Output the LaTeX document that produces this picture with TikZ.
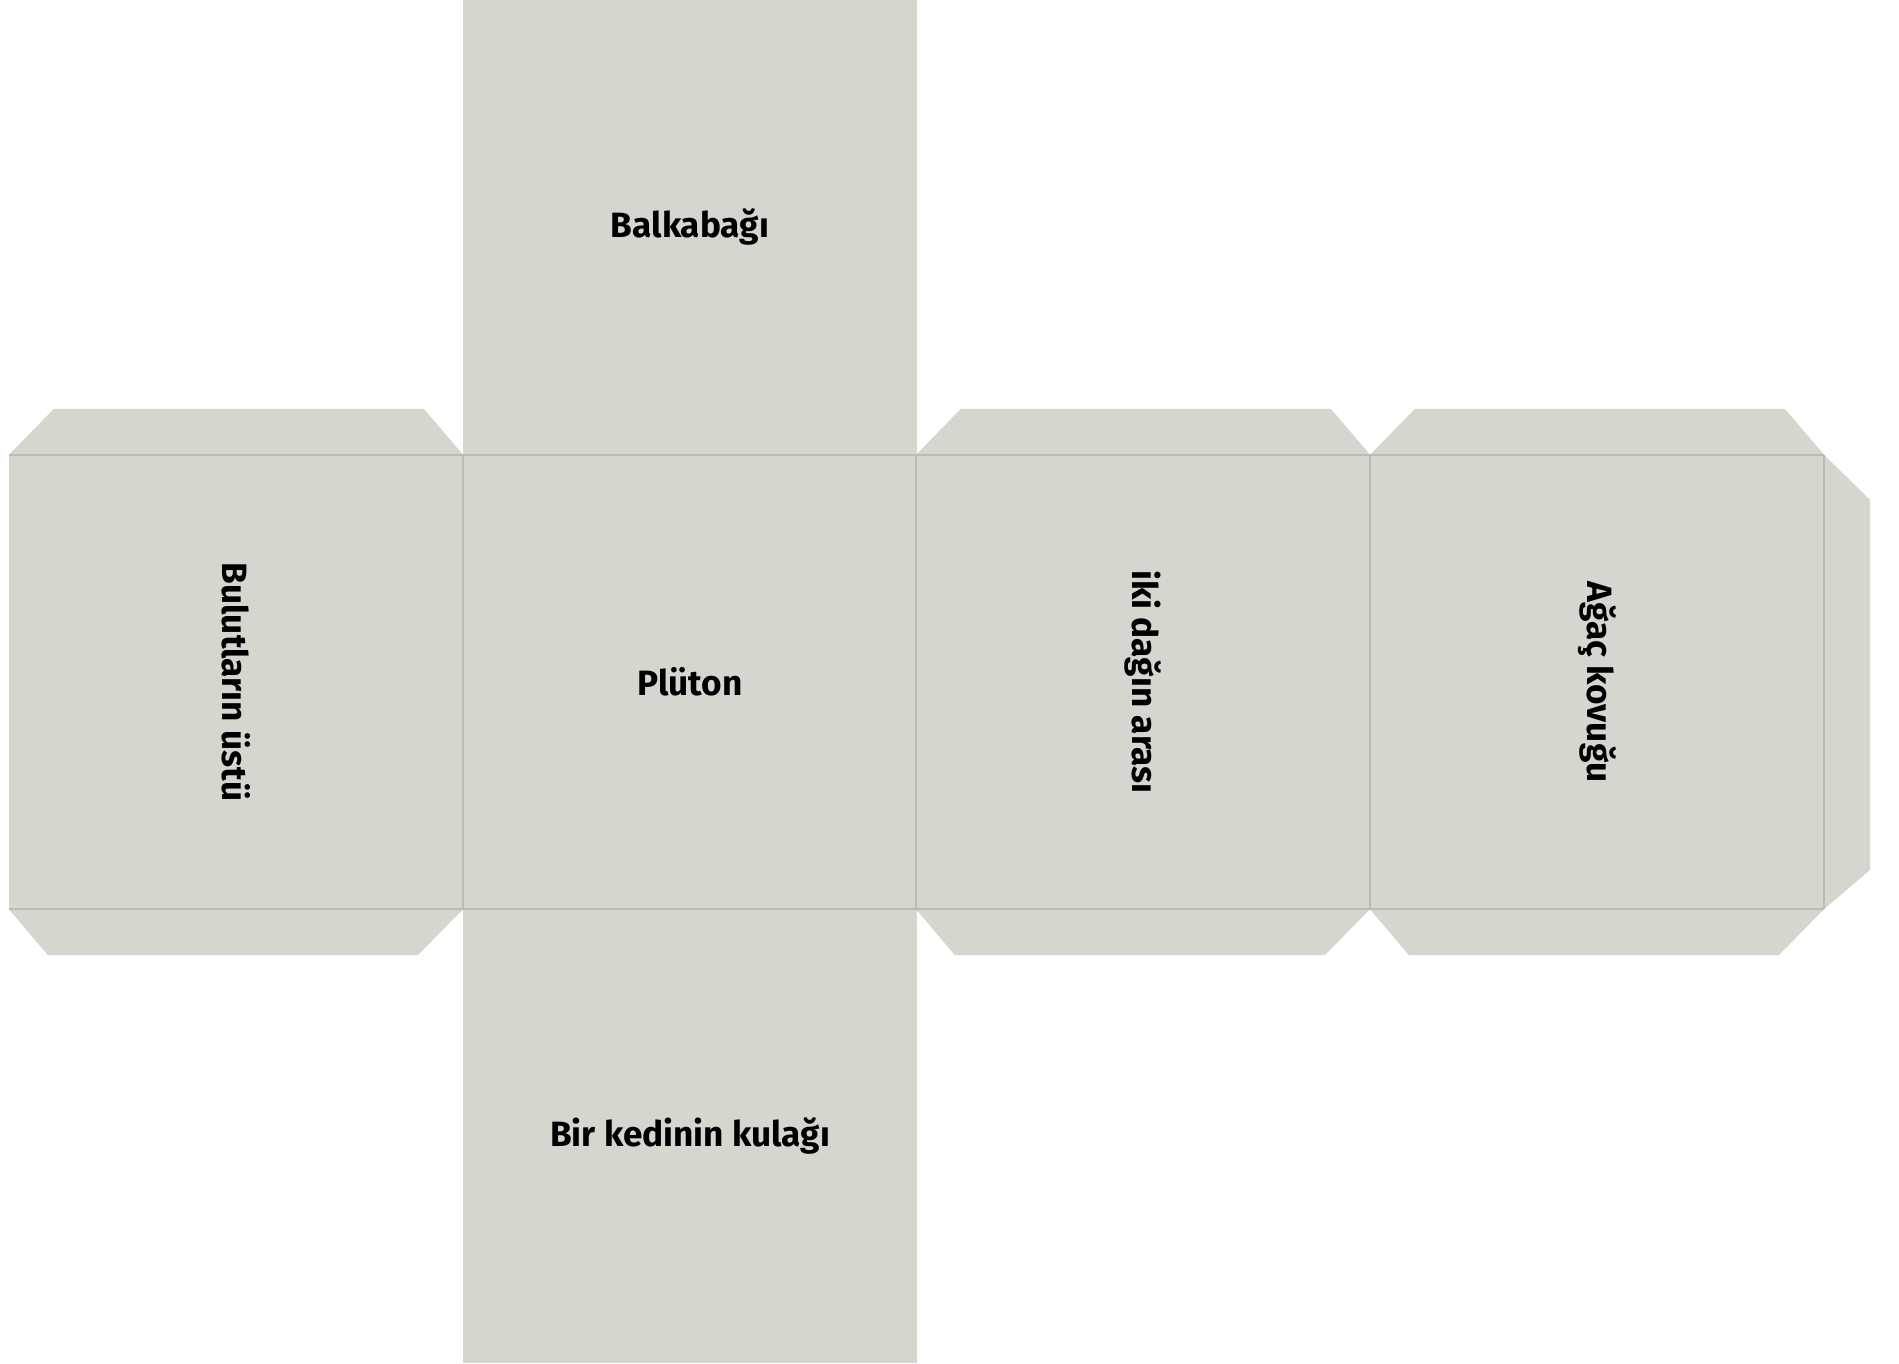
\documentclass[tikz,border=0pt]{standalone}
\usepackage{fontspec}
\setmainfont{Fira Sans}
\definecolor{facegray}{HTML}{D4D7CE}
\definecolor{foldgray}{HTML}{B9BCB5}
\tikzset{
    face/.style={rectangle, fill=facegray, minimum size=4.54cm, inner sep=0pt, outer sep=0pt, font=\bfseries\fontsize{10}{12}\selectfont, text=black},
    tab/.style={fill=facegray},
    fold/.style={draw=foldgray, line width=0.4pt}
}

\begin{document}
\begin{tikzpicture}[x=0.01cm, y=-0.01cm]
    \useasboundingbox (0,0) rectangle (1899,1364);
    \path
    (690,227) node[face](top){Balkabağı}
    (236,682) node[face](left){\rotatebox{-90}{Bulutların üstü}}
    (690,682) node[face](mid){Plüton}
    (1143,682) node[face](right){\rotatebox{-90}{iki dağın arası}}
    (1597,682) node[face](far){\rotatebox{-90}{Ağaç kovuğu}}
    (690,1136) node[face](bottom){Bir kedinin kulağı}
    ;
    % glue tabs
    \foreach \f in {left, right, far} {
        \fill[tab] (\f.north west) -- ++(45,-46) -- ++(370,0) -- (\f.north east) -- cycle;
        \fill[tab] (\f.south west) -- ++(39,46) -- ++(370,0) -- (\f.south east) -- cycle;
    }
    \fill[tab] (far.north east) -- ++(46,45) -- ++(0,370) -- (far.south east) -- cycle;
    % fold lines
    \draw[fold] (left.north west) -- (far.north east);
    \draw[fold] (left.south west) -- (far.south east);
    \foreach \f in {mid, right, far}
        \draw[fold] (\f.north west) -- (\f.south west);
    \draw[fold] (far.north east) -- (far.south east);
\end{tikzpicture}
\end{document}
